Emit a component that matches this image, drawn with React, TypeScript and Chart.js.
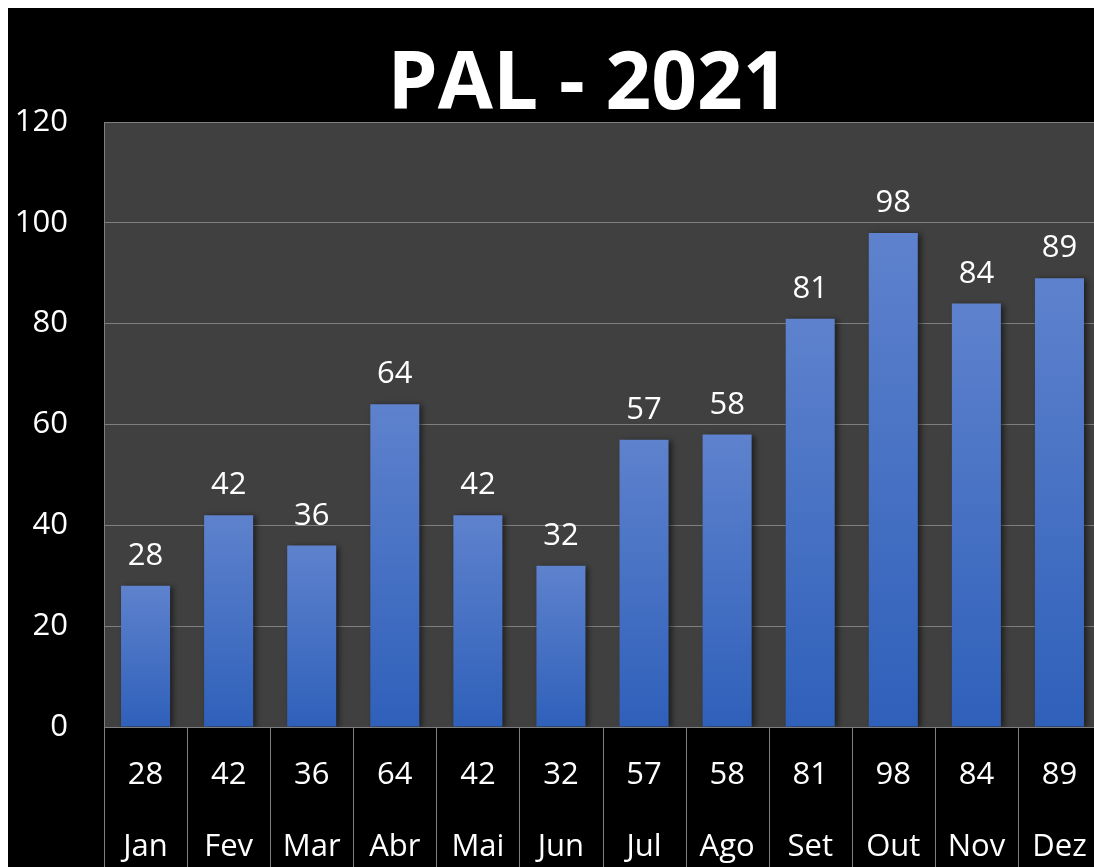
import React, { useEffect, useRef } from 'react';
import { Chart, registerables } from 'chart.js';

Chart.register(...registerables);

const chartTitle = 'PAL - 2021';
const months = ['Jan', 'Fev', 'Mar', 'Abr', 'Mai', 'Jun', 'Jul', 'Ago', 'Set', 'Out', 'Nov', 'Dez'];
const values = [28, 42, 36, 64, 42, 32, 57, 58, 81, 98, 84, 89];
const yMin = 0;
const yMax = 120;
const yStep = 20;

const FONT = "'Open Sans', 'DejaVu Sans', sans-serif";
const GRID = '#7f7f7f';

const plotBg = {
  id: 'plotBg',
  beforeDraw(chart: any) {
    const { ctx, chartArea } = chart;
    ctx.save();
    ctx.fillStyle = '#000000';
    ctx.fillRect(0, 0, chart.width, chart.height);
    ctx.fillStyle = '#404040';
    ctx.fillRect(chartArea.left, chartArea.top, chartArea.right - chartArea.left, chartArea.bottom - chartArea.top);
    ctx.restore();
  },
};

const barShadow = {
  id: 'barShadow',
  beforeDatasetsDraw(chart: any) {
    const ctx = chart.ctx;
    ctx.save();
    ctx.shadowColor = 'rgba(0,0,0,0.55)';
    ctx.shadowBlur = 6;
    ctx.shadowOffsetX = 3;
    ctx.shadowOffsetY = 1;
  },
  afterDatasetsDraw(chart: any) {
    chart.ctx.restore();
  },
};

const valueLabels = {
  id: 'valueLabels',
  afterDatasetsDraw(chart: any) {
    const { ctx } = chart;
    const meta = chart.getDatasetMeta(0);
    ctx.save();
    ctx.fillStyle = '#ffffff';
    ctx.font = `31px ${FONT}`;
    ctx.textAlign = 'center';
    ctx.textBaseline = 'alphabetic';
    meta.data.forEach((el: any, i: number) => {
      ctx.fillText(String(chart.data.datasets[0].data[i]), el.x, el.y - 21);
    });
    ctx.restore();
  },
};

const tableLines = {
  id: 'tableLines',
  afterDraw(chart: any) {
    const { ctx, chartArea } = chart;
    const xs = chart.scales.x;
    ctx.save();
    ctx.strokeStyle = GRID;
    ctx.lineWidth = 1;
    for (let i = 0; i <= months.length; i++) {
      const px = Math.round(xs.getPixelForValue(i - 0.5)) + 0.5;
      ctx.beginPath();
      ctx.moveTo(px, chartArea.bottom);
      ctx.lineTo(px, chart.height);
      ctx.stroke();
    }
    ctx.restore();
  },
};

export default function App() {
  const ref = useRef<HTMLCanvasElement | null>(null);

  useEffect(() => {
    if (!ref.current) return;
    const chart = new Chart(ref.current, {
      type: 'bar',
      data: {
        labels: months.map((m, i) => [String(values[i]), m]),
        datasets: [
          {
            data: values,
            yAxisID: 'y',
            backgroundColor: (c: any) => {
              const ch = c.chart;
              const ys = ch.scales && ch.scales.y;
              if (!ys || c.raw == null) return '#4472c4';
              const top = ys.getPixelForValue(c.raw);
              const bottom = ys.getPixelForValue(0);
              if (!isFinite(top) || !isFinite(bottom) || top === bottom) return '#4472c4';
              const g = ch.ctx.createLinearGradient(0, top, 0, bottom);
              g.addColorStop(0, '#5e82cd');
              g.addColorStop(1, '#2f60ba');
              return g;
            },
            borderWidth: 0,
            barPercentage: 0.59,
            categoryPercentage: 1,
          },
        ],
      },
      options: {
        animation: false,
        responsive: false,
        maintainAspectRatio: false,
        layout: { padding: { left: 6, right: 0, top: 0, bottom: 5 } },
        plugins: {
          legend: { display: false },
          tooltip: { enabled: false },
          title: {
            display: true,
            text: chartTitle,
            color: '#ffffff',
            font: { family: FONT, size: 80, weight: 'bold', lineHeight: 0.9 },
            padding: { top: 42, bottom: 0 },
          },
        },
        scales: {
          x: {
            offset: true,
            grid: { display: false, drawTicks: false },
            border: { display: true, color: GRID, width: 1 },
            ticks: {
              color: '#ffffff',
              font: { family: FONT, size: 31, lineHeight: 72 / 31 },
              padding: 12,
              maxRotation: 0,
              autoSkip: false,
            },
          },
          y: {
            position: 'left',
            min: yMin,
            max: yMax,
            grid: { color: GRID, lineWidth: 1, drawTicks: false },
            border: { display: true, color: GRID, width: 1 },
            ticks: {
              stepSize: yStep,
              color: '#ffffff',
              font: { family: FONT, size: 31 },
              padding: 36,
            },
            afterFit: (s: any) => {
              s.width = 90;
            },
          },
          yRight: {
            type: 'linear',
            position: 'right',
            display: true,
            min: yMin,
            max: yMax,
            grid: { display: false, drawTicks: false },
            border: { display: false },
            ticks: { display: false },
            afterFit: (s: any) => {
              s.width = 61;
            },
          },
        },
      },
      plugins: [plotBg, barShadow, valueLabels, tableLines],
    } as any);
    return () => chart.destroy();
  }, []);

  return (
    <div
      style={{
        position: 'fixed',
        left: 8,
        top: 8,
        width: 1086,
        height: 859,
        overflow: 'hidden',
        background: '#000',
      }}
    >
      <canvas ref={ref} width={1154} height={892} style={{ display: 'block', width: 1154, height: 892 }} />
    </div>
  );
}
